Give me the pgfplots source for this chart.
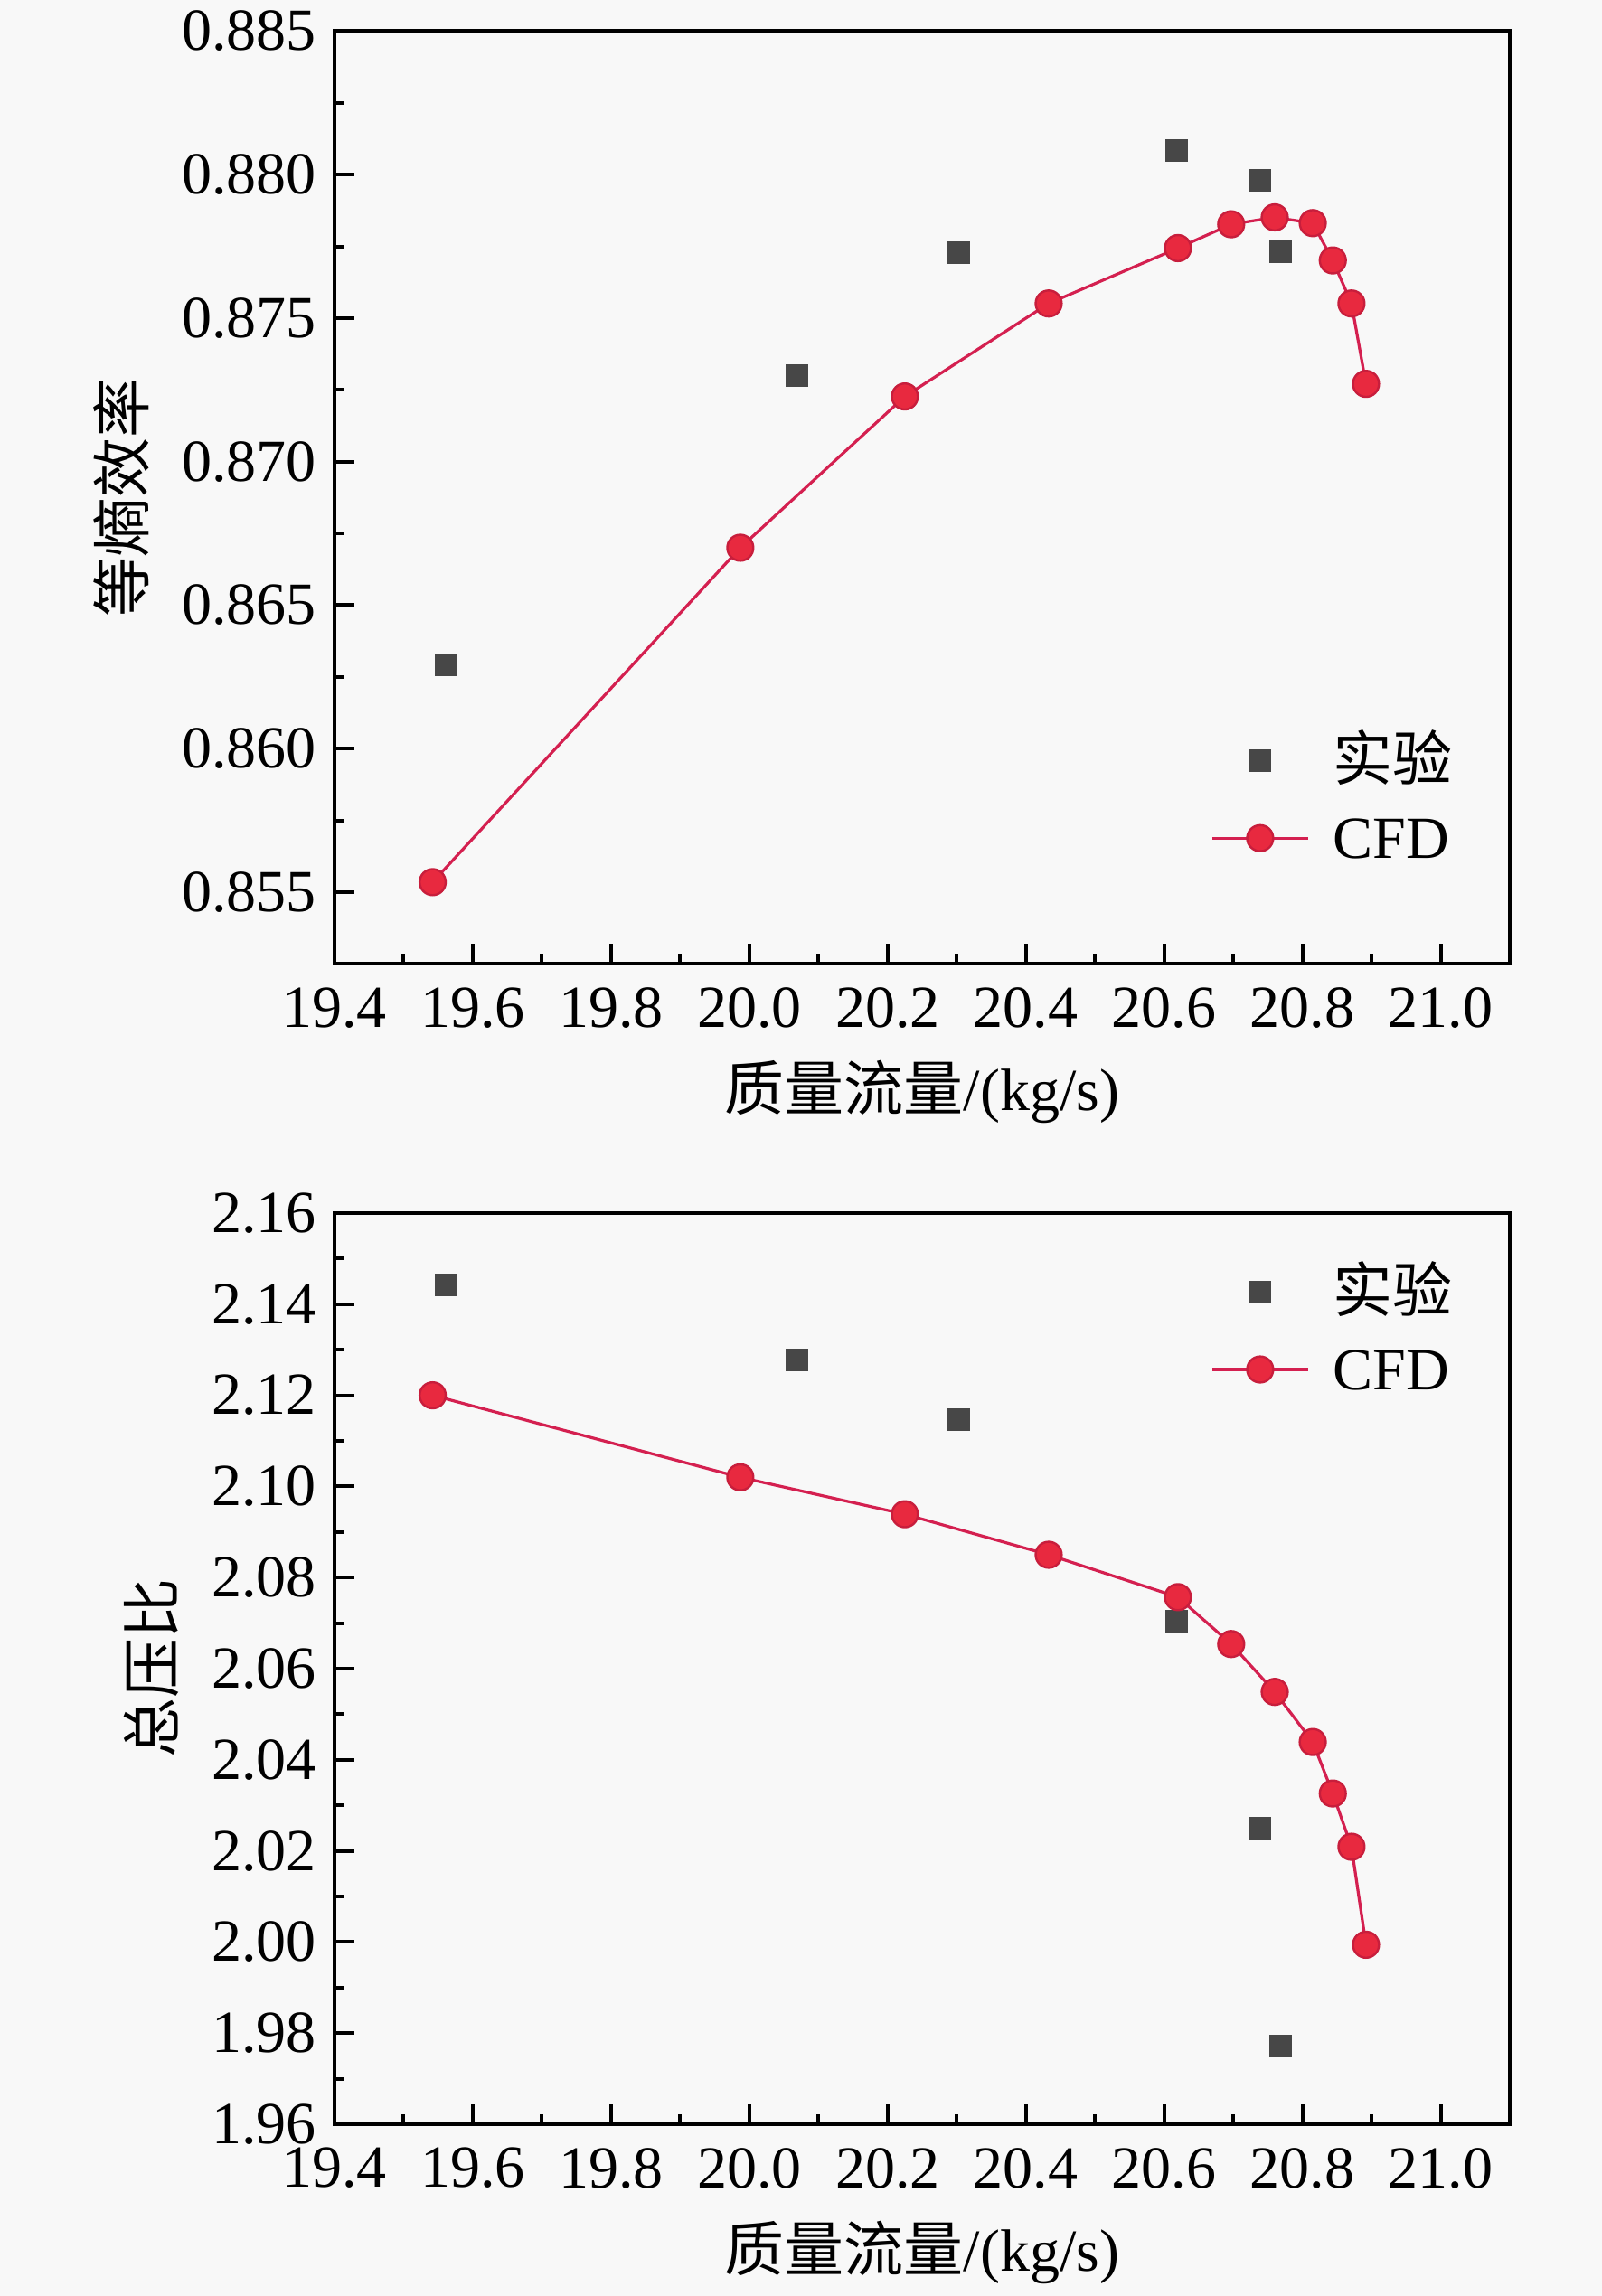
\documentclass[border=0pt]{standalone}
\usepackage{fontspec}
\setmainfont{Liberation Serif}
\newfontfamily\cjk{Noto Sans CJK SC}
\usepackage{pgfplots}
\pgfplotsset{compat=1.18}
\definecolor{expc}{HTML}{474747}
\definecolor{cfdfill}{HTML}{E8293F}
\definecolor{cfdedge}{HTML}{C81E3C}
\definecolor{cfdline}{HTML}{D42050}
\definecolor{bg}{HTML}{F8F8F8}
\pgfplotsset{
  mystyle/.style={
    scale only axis, width=325pt,
    xmin=19.4, xmax=21.1,
    xtick={19.4,19.6,19.8,20.0,20.2,20.4,20.6,20.8,21.0},
    minor x tick num=1, minor y tick num=1,
    tick align=inside, xtick pos=bottom, ytick pos=left,
    major tick length=5.5pt, minor tick length=2.8pt,
    axis line style={line width=1pt},
    every tick/.style={line width=1pt, black},
    scaled ticks=false,
    font=\fontsize{16.5}{19}\selectfont,
    /pgf/number format/assume math mode=true,
    xticklabel style={yshift=-3pt, /pgf/number format/.cd, fixed, fixed zerofill, precision=1},
    legend cell align=left,
    legend style={draw=none, fill=none, inner xsep=0pt, inner ysep=0pt, anchor=west,
      nodes={inner sep=2pt, text height=14pt, text depth=3pt}, row sep=0.5pt},
  },
  expstyle/.style={only marks, mark=square*, mark size=2.9pt, color=expc,
    legend image code/.code={\path (0pt,0pt) (31pt,0pt);\draw[#1] plot coordinates {(13.25pt,0pt)};}},
  cfdstyle/.style={mark=*, mark size=3.6pt, color=cfdline, line width=0.8pt,
    mark options={fill=cfdfill, draw=cfdedge, line width=0.6pt},
    legend image code/.code={\path (0pt,0pt) (31pt,0pt);\draw[mark repeat=2,mark phase=2,#1] plot coordinates {(0pt,0pt) (13.25pt,0pt) (26.5pt,0pt)};}},
}
\begin{document}
\begin{tikzpicture}
\fill[bg] (0,0) rectangle (443pt,635pt);
\useasboundingbox (0,0) rectangle (443pt,635pt);
% top axis
\begin{axis}[mystyle,
  at={(92.5pt,626.4pt)}, anchor=north west, height=258pt,
  ymin=0.8525, ymax=0.885,
  ytick={0.855,0.860,0.865,0.870,0.875,0.880,0.885},
  yticklabel style={xshift=-1.5pt, /pgf/number format/.cd, fixed, fixed zerofill, precision=3},
  xlabel={{\cjk 质量流量}/(kg/s)},
  ylabel={\cjk 等熵效率},
  xlabel style={at={(axis description cs:0.5,-0.137)}, anchor=center},
  ylabel style={at={(axis description cs:-0.1815,0.5)}, anchor=center},
  legend style={at={(0.745,0.1765)}},
]
\addplot[expstyle] coordinates {
(19.562,0.86291) (20.069,0.87299) (20.303,0.87729) (20.618,0.88085) (20.739,0.87979) (20.769,0.87731)
};
\addlegendentry{\cjk 实验}
\addplot[cfdstyle] coordinates {
(19.542,0.85535) (19.987,0.86700) (20.225,0.87227) (20.433,0.87551) (20.620,0.87744)
(20.697,0.87827) (20.760,0.87851) (20.815,0.87831) (20.844,0.87701) (20.871,0.87551) (20.892,0.87271)
};
\addlegendentry{CFD}
\end{axis}
% bottom axis
\begin{axis}[mystyle,
  at={(92.5pt,299.5pt)}, anchor=north west, height=252pt,
  ymin=1.96, ymax=2.16,
  ytick={1.96,1.98,2.00,2.02,2.04,2.06,2.08,2.10,2.12,2.14,2.16},
  yticklabel style={xshift=-1.5pt, /pgf/number format/.cd, fixed, fixed zerofill, precision=2},
  xlabel={{\cjk 质量流量}/(kg/s)},
  ylabel={\cjk 总压比},
  xlabel style={at={(axis description cs:0.5,-0.141)}, anchor=center},
  ylabel style={at={(axis description cs:-0.156,0.5)}, anchor=center},
  legend style={at={(0.745,0.871)}},
]
\addplot[expstyle] coordinates {
(19.562,2.1442) (20.069,2.1277) (20.303,2.1146) (20.618,2.0704) (20.739,2.0249) (20.769,1.9771)
};
\addlegendentry{\cjk 实验}
\addplot[cfdstyle] coordinates {
(19.542,2.1200) (19.987,2.1020) (20.225,2.0939) (20.433,2.0850) (20.620,2.0757)
(20.697,2.0654) (20.760,2.0549) (20.815,2.0439) (20.844,2.0326) (20.871,2.0209) (20.892,1.9994)
};
\addlegendentry{CFD}
\end{axis}
\end{tikzpicture}
\end{document}
